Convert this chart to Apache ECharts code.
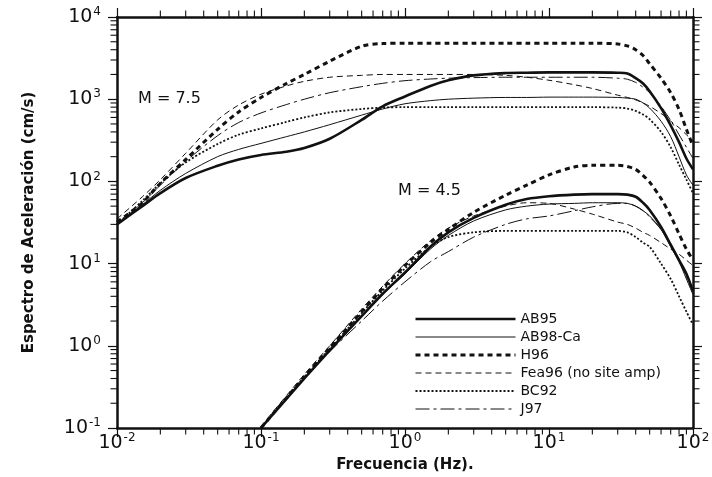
<!DOCTYPE html>
<html><head><meta charset="utf-8">
<script src="https://cdn.jsdelivr.net/npm/echarts@6/dist/echarts.min.js"></script>
<style>html,body{margin:0;padding:0;background:#fff}#c{width:712px;height:477px}</style>
</head><body><div id="c"></div>
<script>
// ---- data ----
const freq75 = [0.01,0.015,0.02,0.03,0.05,0.07,0.1,0.15,0.2,0.3,0.5,0.7,1,1.5,2,3,5,7,10,15,20,30,35,40,45,50,60,70,80,90,100];
const ab95_75 = [30,50,72,110,155,185,210,230,255,330,560,820,1080,1450,1700,1950,2080,2100,2120,2120,2120,2100,2050,1800,1550,1250,780,480,300,190,140];
const ab98_75 = [30,52,78,125,200,245,290,350,400,490,640,760,880,960,1000,1030,1050,1050,1060,1060,1060,1050,1030,1000,900,780,540,350,200,120,90];
const h96_75  = [32,55,95,185,430,700,1050,1550,2000,2900,4400,4750,4800,4800,4800,4800,4800,4800,4800,4800,4800,4700,4450,4000,3400,2700,1800,1200,750,430,270];
const fea_75  = [35,65,105,220,560,850,1150,1450,1650,1850,1950,2000,2000,2000,2000,2000,1950,1850,1700,1500,1350,1120,1050,980,900,820,670,540,450,370,310];
const bc_75   = [30,58,95,170,285,370,440,530,600,690,760,790,800,800,800,800,800,800,800,800,800,790,770,720,650,570,400,260,160,105,72];
const j97_75  = [30,55,90,175,360,520,680,860,1000,1200,1420,1560,1680,1760,1800,1830,1850,1850,1850,1850,1850,1800,1750,1600,1400,1200,820,550,370,260,190];

const freq45 = [0.1,0.2,0.3,0.5,0.7,1,1.5,2,3,5,7,10,15,20,30,35,40,45,50,60,70,80,90,100];
const ab95_45 = [0.1,0.4,0.88,2.3,4.3,7.8,16,24,36,52,61,66,69,70,70,69,65,55,45,28,17,11,7.5,4.6];
const ab98_45 = [0.1,0.4,0.88,2.3,4.2,7.5,15,22,33,45,50,53,54,55,55,54,50,44,38,26,16,10.5,6.5,4.2];
const h96_45  = [0.1,0.42,0.95,2.6,5,9.5,18,26,42,68,90,120,150,157,157,152,140,118,98,62,38,23,15,11];
const fea_45  = [0.105,0.45,1.0,2.8,5.3,10,19,27,38,50,55,54,46,40,32,30,27,24,22,18,15,13,11,9.5];
const bc_45   = [0.1,0.42,0.92,2.5,4.7,8.7,16,21,24,25,25,25,25,25,25,24,21,18,16,10,6.5,4,2.6,1.8];
const j97_45  = [0.1,0.4,0.85,2.0,3.5,6,10.5,14,21,30,35,38,44,49,54,54,50,44,37,26,17,11,7,4.5];

const seriesNames = ['AB95','AB98-Ca','H96','Fea96 (no site amp)','BC92','J97'];
const xMajor = [0.01,0.1,1,10,100];
const yMajor = [0.1,1,10,100,1000,10000];
const magLabels = ['M = 7.5','M = 4.5'];

// ---- chart ----
function minors(major){const out=[];for(let i=0;i<major.length-1;i++){for(let k=2;k<=9;k++)out.push(+(major[i]*k).toPrecision(6));}return out;}
const xMinor = minors(xMajor), yMinor = minors(yMajor);
const FONT = 'DejaVu Sans';
const INK = '#111';
const X0 = xMajor[0], X1 = xMajor[xMajor.length-1], Y0 = yMajor[0], Y1 = yMajor[yMajor.length-1];
function supLabel(v){const e=Math.round(Math.log10(v));return '{b|10}{s|'+e+'}';}
const rich = {
  b:{fontFamily:FONT,fontSize:19,color:INK,lineHeight:22},
  s:{fontFamily:FONT,fontSize:12,color:INK,lineHeight:12,verticalAlign:'top',padding:[0,0,0,1]}
};
function majorAxis(dim,pos,label,extra){
  const a = {
    type:'log',logBase:10,position:pos,gridIndex:0,offset:0,
    min: dim==='x'?X0:Y0, max: dim==='x'?X1:Y1,
    axisLine:{show:true,onZero:false,lineStyle:{color:INK,width:2.5}},
    axisTick:{show:true,length:9,inside:false,lineStyle:{color:INK,width:1.2}},
    axisLabel: label ? Object.assign({show:true,formatter:supLabel,rich:rich},label) : {show:false},
    splitLine:{show:false},minorTick:{show:false},minorSplitLine:{show:false}
  };
  return Object.assign(a, extra||{});
}
// minor (2..9) ticks on all four sides, positioned through the log axes
function minorTickSeries(dim, values){
  const L = 6.5;
  return {
    type:'custom',coordinateSystem:'cartesian2d',xAxisIndex:0,yAxisIndex:0,silent:true,clip:false,z:5,
    animation:false,
    data: values.map(v => dim==='x' ? [v, Y0] : [X0, v]),
    renderItem: function(params, api){
      const st = {stroke:INK,lineWidth:1.1};
      if (dim==='x'){
        const v = api.value(0);
        const b = api.coord([v, Y0]), t = api.coord([v, Y1]);
        return {type:'group',children:[
          {type:'line',shape:{x1:b[0],y1:b[1],x2:b[0],y2:b[1]+L},style:st},
          {type:'line',shape:{x1:t[0],y1:t[1],x2:t[0],y2:t[1]-L},style:st}]};
      } else {
        const v = api.value(1);
        const l = api.coord([X0, v]), r = api.coord([X1, v]);
        return {type:'group',children:[
          {type:'line',shape:{x1:l[0],y1:l[1],x2:l[0]-L,y2:l[1]},style:st},
          {type:'line',shape:{x1:r[0],y1:r[1],x2:r[0]+L,y2:r[1]},style:st}]};
      }
    }
  };
}
const styles = {
  'AB95':{color:INK,width:2.6,type:'solid'},
  'AB98-Ca':{color:INK,width:1,type:'solid'},
  'H96':{color:INK,width:3,type:[5,4]},
  'Fea96 (no site amp)':{color:INK,width:1,type:[6,4]},
  'BC92':{color:INK,width:1.8,type:[2,2]},
  'J97':{color:INK,width:1,type:[14,4,3,4]}
};
function mk(name,xs,ys){
  return {name:name,type:'line',data:xs.map((x,i)=>[x,ys[i]]),showSymbol:false,symbol:'none',
    smooth:0.3,lineStyle:styles[name],itemStyle:{color:INK},silent:true,animation:false,xAxisIndex:0,yAxisIndex:0};
}
const series = [
  mk('AB95',freq75,ab95_75), mk('AB98-Ca',freq75,ab98_75), mk('H96',freq75,h96_75),
  mk('Fea96 (no site amp)',freq75,fea_75), mk('BC92',freq75,bc_75), mk('J97',freq75,j97_75),
  mk('AB95',freq45,ab95_45), mk('AB98-Ca',freq45,ab98_45), mk('H96',freq45,h96_45),
  mk('Fea96 (no site amp)',freq45,fea_45), mk('BC92',freq45,bc_45), mk('J97',freq45,j97_45),
  minorTickSeries('x', xMinor), minorTickSeries('y', yMinor)
];
const chart = echarts.init(document.getElementById('c'),null,{renderer:'canvas'});
chart.setOption({
  animation:false,
  backgroundColor:'#fff',
  grid:{left:117,right:19,top:17,bottom:49,containLabel:false,outerBoundsMode:'none'},
  xAxis:[
    majorAxis('x','bottom',{margin:4},{name:'Frecuencia (Hz).',nameLocation:'middle',nameGap:30,
      nameTextStyle:{fontFamily:FONT,fontSize:15,fontWeight:'bold',color:INK}}),
    majorAxis('x','top',null)
  ],
  yAxis:[
    majorAxis('y','left',{margin:16},{name:'Espectro de Aceleración (cm/s)',nameLocation:'middle',nameGap:80,
      nameTextStyle:{fontFamily:FONT,fontSize:15,fontWeight:'bold',color:INK}}),
    majorAxis('y','right',null)
  ],
  legend:{orient:'vertical',left:409,top:307,itemWidth:100,itemHeight:14,itemGap:4,selectedMode:false,
    itemStyle:{opacity:0,borderWidth:0},lineStyle:{width:'inherit'},
    textStyle:{fontFamily:FONT,fontSize:14,color:INK},data:seriesNames},
  graphic:[
    {type:'text',left:138,top:91,style:{text:magLabels[0],font:'16px "DejaVu Sans"',fill:INK}},
    {type:'text',left:398,top:183,style:{text:magLabels[1],font:'16px "DejaVu Sans"',fill:INK}}
  ],
  series:series
});
</script></body></html>
